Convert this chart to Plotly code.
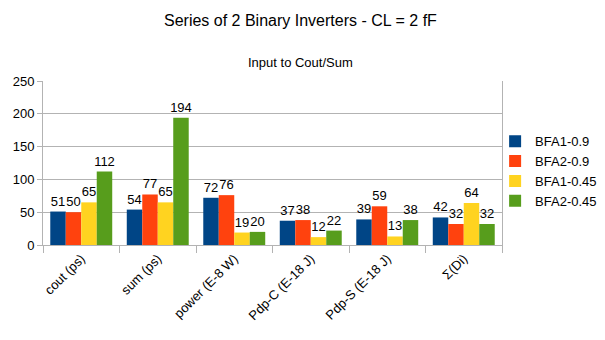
import plotly.graph_objects as go

categories = ["cout (ps)", "sum (ps)", "power (E-8 W)", "Pdp-C (E-18 J)", "Pdp-S (E-18 J)", "Σ(Di)"]
series_names = ["BFA1-0.9", "BFA2-0.9", "BFA1-0.45", "BFA2-0.45"]
bfa1_09 = [51, 54, 72, 37, 39, 42]
bfa2_09 = [50, 77, 76, 38, 59, 32]
bfa1_045 = [65, 65, 19, 12, 13, 64]
bfa2_045 = [112, 194, 20, 22, 38, 32]
colors = ["#004586", "#ff420e", "#ffd320", "#579d1c"]
y_ticks = [0, 50, 100, 150, 200, 250]

FONT = "Liberation Sans, Arial, sans-serif"

fig = go.Figure()
for name, vals, col in zip(series_names, [bfa1_09, bfa2_09, bfa1_045, bfa2_045], colors):
    fig.add_trace(go.Bar(
        x=categories, y=vals, name=name,
        marker=dict(color=col, line=dict(width=0)),
        text=[str(v) for v in vals], textposition="outside",
        textfont=dict(family=FONT, size=13, color="#000000"),
        constraintext="none",
        cliponaxis=False,
    ))

fig.update_layout(
    width=605, height=340,
    margin=dict(l=35, r=111, t=73, b=103, autoexpand=False),
    paper_bgcolor="white", plot_bgcolor="white",
    barmode="group", bargap=0.19, bargroupgap=0,
    font=dict(family=FONT, size=13, color="#000000"),
    showlegend=True,
    legend=dict(x=0.985, y=0.45, xanchor="left", yanchor="middle",
                bgcolor="rgba(0,0,0,0)",
                font=dict(family=FONT, size=13, color="#000000"),
                itemwidth=30, tracegroupgap=0),
    annotations=[
        dict(text="Series of 2 Binary Inverters - CL = 2 fF", xref="paper", yref="paper",
             x=0.562, y=1.0, yshift=61, showarrow=False, xanchor="center", yanchor="middle",
             font=dict(family=FONT, size=16, color="#000000")),
        dict(text="Input to Cout/Sum", xref="paper", yref="paper",
             x=0.562, y=1.0, yshift=19, showarrow=False, xanchor="center", yanchor="middle",
             font=dict(family=FONT, size=13, color="#000000")),
    ],
)
fig.update_xaxes(
    automargin=False,
    tickangle=-45, ticks="outside", tickson="boundaries", ticklen=7,
    tickcolor="#b3b3b3", showline=True, linecolor="#b3b3b3", linewidth=1,
    mirror=False, tickfont=dict(family=FONT, size=13, color="#000000"),
)
fig.update_yaxes(
    automargin=False,
    range=[0, 250], tickvals=y_ticks, ticks="outside", ticklen=5, tickcolor="#b3b3b3",
    showgrid=True, gridcolor="#b3b3b3", gridwidth=1, showline=True, linecolor="#b3b3b3",
    mirror=True, zeroline=False, tickfont=dict(family=FONT, size=13, color="#000000"),
)

fig.write_html("out.html")
